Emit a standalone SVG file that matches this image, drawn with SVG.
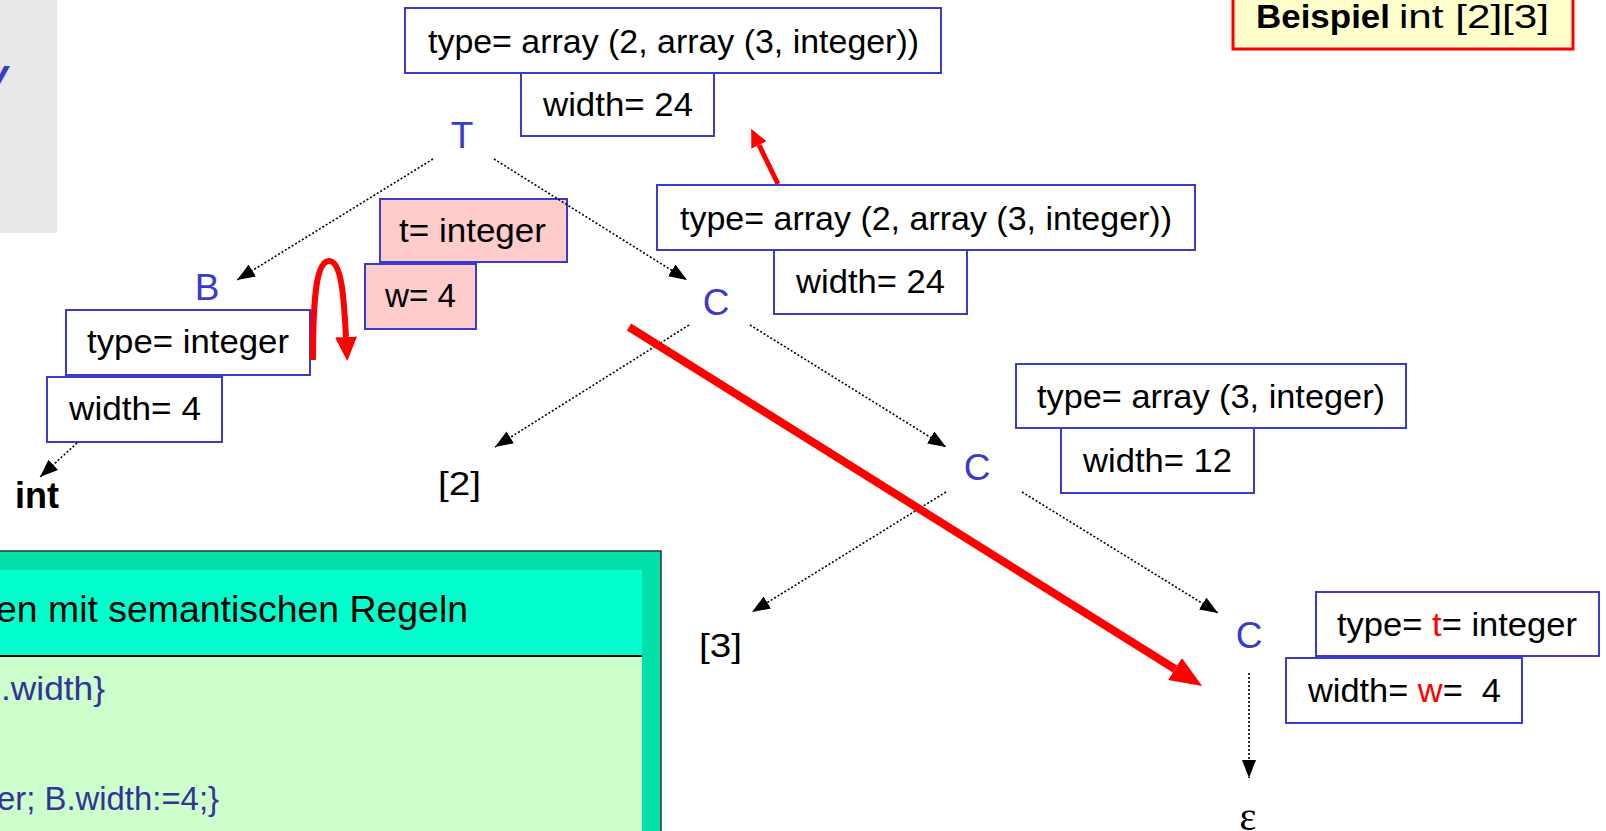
<svg xmlns="http://www.w3.org/2000/svg" width="1606" height="831" viewBox="0 0 1606 831">
  <style>
    .box { fill: #ffffff; stroke: #3a3acc; stroke-width: 2; }
    .pink { fill: #ffcccc; stroke: #3a3acc; stroke-width: 2; }
    .t { font-family: "Liberation Sans", Arial, sans-serif; font-size: 34px; fill: #000; text-anchor: middle; }
    .n { font-family: "Liberation Sans", Arial, sans-serif; font-size: 37px; fill: #3a3acc; text-anchor: middle; }
    .dot { fill: none; stroke: #000; stroke-width: 1.6; stroke-dasharray: 2 2; marker-end: url(#ah); }
    .rl { fill: none; stroke: #ff0000; }
    .code { font-family: "Liberation Sans", Arial, sans-serif; font-size: 33px; fill: #333399; }
  </style>
  <defs>
    <marker id="ah" markerUnits="userSpaceOnUse" markerWidth="18" markerHeight="14" viewBox="0 0 18 14" refX="18" refY="7" orient="auto">
      <path d="M0,0 L18,7 L0,14 z" fill="#000"/>
    </marker>
    <marker id="rbig" markerUnits="userSpaceOnUse" markerWidth="32" markerHeight="26" viewBox="0 0 32 26" refX="0" refY="13" orient="auto">
      <path d="M0,0 L32,13 L0,26 z" fill="#ff0000"/>
    </marker>
    <marker id="rmid" markerUnits="userSpaceOnUse" markerWidth="24" markerHeight="22" viewBox="0 0 24 22" refX="0" refY="11" orient="auto">
      <path d="M0,0 L24,11 L0,22 z" fill="#ff0000"/>
    </marker>
    <marker id="rsm" markerUnits="userSpaceOnUse" markerWidth="18" markerHeight="17" viewBox="0 0 18 17" refX="0" refY="8.5" orient="auto">
      <path d="M0,0 L18,8.5 L0,17 z" fill="#ff0000"/>
    </marker>
  </defs>

  <rect width="1606" height="831" fill="#ffffff"/>

  <!-- grey side panel with clipped glyph -->
  <g id="side-panel">
    <rect x="0" y="0" width="57" height="233" fill="#e8e8e8"/>
    <text x="-14" y="88" font-family="Liberation Sans, Arial, sans-serif" font-size="40" font-weight="bold" font-style="italic" fill="#3a3acc">y</text>
  </g>

  <!-- rules panel -->
  <g id="rules-panel">
    <rect x="-2" y="551" width="663" height="284" fill="#00e0a8" stroke="#333" stroke-width="1.5"/>
    <rect x="-2" y="570" width="644" height="86" fill="#00ffcc"/>
    <rect x="-2" y="657" width="644" height="180" fill="#ccffcc"/>
    <line x1="-2" y1="656" x2="642" y2="656" stroke="#000" stroke-width="2"/>
    <text x="-4" y="622" font-family="Liberation Sans, Arial, sans-serif" font-size="37" fill="#000" textLength="472" lengthAdjust="spacingAndGlyphs">en mit semantischen Regeln</text>
    <text class="code" x="1" y="700" textLength="104" lengthAdjust="spacingAndGlyphs">.width}</text>
    <text class="code" x="-3" y="810" textLength="222" lengthAdjust="spacingAndGlyphs">er; B.width:=4;}</text>
  </g>

  <!-- example label -->
  <g id="example">
    <rect x="1233" y="-3" width="340" height="52" fill="#ffffcc" stroke="#ff0000" stroke-width="3"/>
    <text x="1256" y="28" font-family="Liberation Sans, Arial, sans-serif" font-size="33" font-weight="bold" textLength="134" lengthAdjust="spacingAndGlyphs">Beispiel</text>
    <text x="1399" y="28" font-family="Liberation Sans, Arial, sans-serif" font-size="33" textLength="150" lengthAdjust="spacingAndGlyphs">int [2][3]</text>
  </g>

  <!-- T node -->
  <g id="node-T">
    <rect class="box" x="405" y="8" width="536" height="65"/>
    <text class="t" x="673.5" y="53" textLength="491" lengthAdjust="spacingAndGlyphs">type= array (2, array (3, integer))</text>
    <rect class="box" x="521" y="73" width="193" height="63"/>
    <text class="t" x="618" y="116" textLength="150" lengthAdjust="spacingAndGlyphs">width= 24</text>
    <text class="n" x="462" y="148">T</text>
  </g>

  <!-- inherited values t, w -->
  <g id="inherited">
    <rect class="pink" x="380" y="199" width="187" height="63"/>
    <text class="t" x="472.5" y="242" textLength="147" lengthAdjust="spacingAndGlyphs">t= integer</text>
    <rect class="pink" x="365" y="264" width="111" height="65"/>
    <text class="t" x="420.5" y="307" textLength="71" lengthAdjust="spacingAndGlyphs">w= 4</text>
  </g>

  <!-- B node -->
  <g id="node-B">
    <text class="n" x="207" y="300">B</text>
    <rect class="box" x="66" y="310" width="244" height="65"/>
    <text class="t" x="188" y="353" textLength="202" lengthAdjust="spacingAndGlyphs">type= integer</text>
    <rect class="box" x="47" y="377" width="175" height="65"/>
    <text class="t" x="135" y="420" textLength="132" lengthAdjust="spacingAndGlyphs">width= 4</text>
  </g>

  <g id="leaf-int">
    <text x="15" y="508" font-family="Liberation Sans, Arial, sans-serif" font-size="36" font-weight="bold">int</text>
  </g>

  <!-- first C node -->
  <g id="node-C1">
    <rect class="box" x="657" y="185" width="538" height="65"/>
    <text class="t" x="926" y="230" textLength="492" lengthAdjust="spacingAndGlyphs">type= array (2, array (3, integer))</text>
    <rect class="box" x="774" y="250" width="193" height="64"/>
    <text class="t" x="870.5" y="293" textLength="149" lengthAdjust="spacingAndGlyphs">width= 24</text>
    <text class="n" x="716" y="315">C</text>
  </g>

  <g id="leaf-2">
    <text class="t" x="459.5" y="495" textLength="43" lengthAdjust="spacingAndGlyphs">[2]</text>
  </g>

  <!-- second C node -->
  <g id="node-C2">
    <text class="n" x="977" y="480">C</text>
    <rect class="box" x="1016" y="364" width="390" height="64"/>
    <text class="t" x="1211" y="408" textLength="348" lengthAdjust="spacingAndGlyphs">type= array (3, integer)</text>
    <rect class="box" x="1061" y="428" width="193" height="65"/>
    <text class="t" x="1157.5" y="472" textLength="149" lengthAdjust="spacingAndGlyphs">width= 12</text>
  </g>

  <g id="leaf-3">
    <text class="t" x="720.5" y="657" textLength="43" lengthAdjust="spacingAndGlyphs">[3]</text>
  </g>

  <!-- third C node -->
  <g id="node-C3">
    <text class="n" x="1249" y="648">C</text>
    <rect class="box" x="1316" y="592" width="283" height="64"/>
    <text class="t" x="1457" y="636" textLength="240" lengthAdjust="spacingAndGlyphs">type= <tspan fill="#ff0000">t</tspan>= integer</text>
    <rect class="box" x="1286" y="658" width="236" height="65"/>
    <text class="t" x="1404.5" y="702" textLength="193" lengthAdjust="spacingAndGlyphs" xml:space="preserve">width= <tspan fill="#ff0000">w</tspan>=  4</text>
  </g>

  <g id="leaf-eps">
    <text x="1248" y="830" font-family="Liberation Serif, Times New Roman, serif" font-size="40" text-anchor="middle">ε</text>
  </g>

  <!-- parse tree edges -->
  <g id="connectors">
    <line class="dot" x1="433" y1="159" x2="237" y2="280"/>
    <line class="dot" x1="494" y1="159" x2="687" y2="280"/>
    <line class="dot" x1="77" y1="443" x2="40" y2="477"/>
    <line class="dot" x1="689" y1="325" x2="495" y2="447"/>
    <line class="dot" x1="750" y1="325" x2="946" y2="447"/>
    <line class="dot" x1="946" y1="492" x2="752" y2="612"/>
    <line class="dot" x1="1022" y1="492" x2="1218" y2="613"/>
    <line class="dot" x1="1249" y1="673" x2="1249" y2="778"/>
  </g>

  <!-- attribute flow -->
  <g id="flow">
    <path class="rl" d="M313,360 C313,300 316,261 329,261 C342,261 344,300 346,337" stroke-width="6" marker-end="url(#rmid)"/>
    <line class="rl" x1="629" y1="327" x2="1175" y2="669" stroke-width="8" marker-end="url(#rbig)"/>
    <line class="rl" x1="778" y1="184" x2="759" y2="145" stroke-width="5" marker-end="url(#rsm)"/>
  </g>
</svg>
